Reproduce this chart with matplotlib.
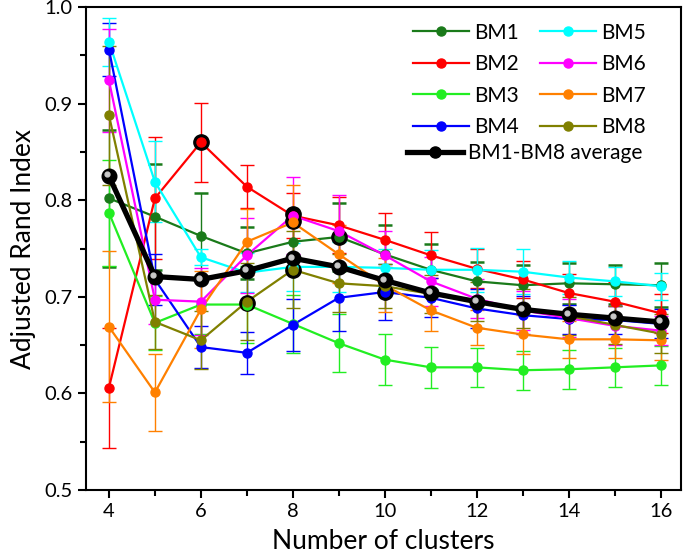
import matplotlib
matplotlib.use("Agg")
import matplotlib.pyplot as plt
import matplotlib.transforms as mtransforms
from matplotlib.lines import Line2D
import numpy as np

plt.rcParams['font.family'] = ['Lato', 'DejaVu Sans']

clusters = [4, 5, 6, 7, 8, 9, 10, 11, 12, 13, 14, 15, 16]

bm1 = [0.802, 0.783, 0.763, 0.745, 0.757, 0.762, 0.744, 0.728, 0.716, 0.712, 0.714, 0.713, 0.712]
bm2 = [0.606, 0.802, 0.860, 0.814, 0.784, 0.774, 0.759, 0.743, 0.729, 0.718, 0.704, 0.695, 0.683]
bm3 = [0.787, 0.673, 0.692, 0.692, 0.672, 0.652, 0.635, 0.627, 0.627, 0.624, 0.625, 0.627, 0.629]
bm4 = [0.956, 0.718, 0.648, 0.642, 0.671, 0.699, 0.705, 0.699, 0.688, 0.681, 0.677, 0.676, 0.672]
bm5 = [0.964, 0.819, 0.741, 0.725, 0.731, 0.731, 0.730, 0.728, 0.728, 0.726, 0.720, 0.716, 0.711]
bm6 = [0.924, 0.697, 0.695, 0.743, 0.784, 0.768, 0.743, 0.716, 0.698, 0.686, 0.678, 0.670, 0.665]
bm7 = [0.669, 0.601, 0.687, 0.757, 0.777, 0.744, 0.712, 0.686, 0.668, 0.661, 0.656, 0.656, 0.655]
bm8 = [0.888, 0.674, 0.655, 0.695, 0.728, 0.714, 0.711, 0.703, 0.695, 0.688, 0.680, 0.671, 0.662]
avg = [0.825, 0.721, 0.718, 0.727, 0.740, 0.731, 0.717, 0.704, 0.695, 0.687, 0.682, 0.678, 0.674]

err1 = [0.071, 0.055, 0.044, 0.027, 0.030, 0.035, 0.030, 0.027, 0.020, 0.021, 0.021, 0.020, 0.023]
err2 = [0.062, 0.063, 0.041, 0.022, 0.023, 0.029, 0.028, 0.024, 0.020, 0.019, 0.020, 0.020, 0.020]
err3 = [0.055, 0.028, 0.030, 0.040, 0.030, 0.030, 0.026, 0.021, 0.020, 0.020, 0.020, 0.020, 0.020]
err4 = [0.027, 0.026, 0.022, 0.022, 0.027, 0.034, 0.029, 0.020, 0.020, 0.020, 0.015, 0.015, 0.015]
err5 = [0.025, 0.042, 0.008, 0.020, 0.025, 0.026, 0.020, 0.020, 0.023, 0.023, 0.017, 0.015, 0.014]
err6 = [0.053, 0.025, 0.035, 0.039, 0.040, 0.037, 0.025, 0.025, 0.020, 0.020, 0.020, 0.020, 0.015]
err7 = [0.078, 0.040, 0.040, 0.034, 0.039, 0.030, 0.028, 0.021, 0.018, 0.020, 0.019, 0.019, 0.020]
err8 = [0.072, 0.028, 0.030, 0.040, 0.040, 0.030, 0.023, 0.020, 0.020, 0.020, 0.020, 0.020, 0.020]

# highlighted points (black rings)
ring_x = [6, 7, 8, 8, 8, 9, 10]
ring_y = [0.860, 0.694, 0.786, 0.778, 0.728, 0.762, 0.705]

labels = ['BM1', 'BM2', 'BM3', 'BM4', 'BM5', 'BM6', 'BM7', 'BM8']
colors = ['#1a7a1a', '#ff0000', '#22ee22', '#0000ff', '#00ffff', '#ff00ff', '#ff8000', '#808000']
series = [bm1, bm2, bm3, bm4, bm5, bm6, bm7, bm8]
errs = [err1, err2, err3, err4, err5, err6, err7, err8]

fig = plt.figure(figsize=(6.85, 5.56), dpi=100)
ax = fig.add_axes([0.1255, 0.1187, 0.869, 0.8686])

handles = []
for i, (lab, col, ys, es) in enumerate(zip(labels, colors, series, errs)):
    capw = 1.8 if i == 0 else 1.0
    ax.errorbar(clusters, ys, yerr=es, fmt='none', ecolor=col, elinewidth=1.0,
                capsize=5, capthick=capw, zorder=2)
for i, (lab, col, ys) in enumerate(zip(labels, colors, series)):
    h, = ax.plot(clusters, ys, '-', color=col, lw=1.6, zorder=3, label=lab)
    handles.append(h)

# black rings beneath colored markers
ax.plot(ring_x, ring_y, 'o', ls='none', color='black', ms=11, zorder=4)

for i, (lab, col, ys) in enumerate(zip(labels, colors, series)):
    ax.plot(clusters, ys, 'o', ls='none', color=col, ms=6.5, zorder=5)

# average series
ax.plot(clusters, avg, '-', color='black', lw=3.8, zorder=6)
ax.plot(clusters, avg, 'o', ls='none', color='black', ms=10.5, zorder=7)
hl = mtransforms.offset_copy(ax.transData, fig=fig, x=-1.2, y=1.2, units='points')
ax.plot(clusters, avg, 'o', ls='none', color='#c8c8c8', ms=3.5, zorder=8, transform=hl)

ax.set_xlim(3.5, 16.45)
ax.set_ylim(0.5, 1.0)
ax.set_xticks([4, 6, 8, 10, 12, 14, 16])
ax.set_xticks([5, 7, 9, 11, 13, 15], minor=True)
ax.set_yticks([0.5, 0.6, 0.7, 0.8, 0.9, 1.0])
ax.set_yticks([0.55, 0.65, 0.75, 0.85, 0.95], minor=True)
ax.set_yticklabels(['0.5', '0.6', '0.7', '0.8', '0.9', '1.0'])
ax.tick_params(axis='both', which='major', direction='out', length=6, width=1.5,
               labelsize=14.5, top=False, right=False)
ax.tick_params(axis='both', which='minor', direction='out', length=4, width=1.5,
               top=False, right=False)
for s in ax.spines.values():
    s.set_linewidth(1.5)

ax.set_xlabel('Number of clusters', fontsize=19, labelpad=6)
ax.set_ylabel('Adjusted Rand Index', fontsize=19, labelpad=6)

leg1 = ax.legend(handles=handles, ncol=2, loc='upper right', frameon=False,
                 fontsize=15, handlelength=2.7, handletextpad=0.25, columnspacing=1.0,
                 labelspacing=0.55, bbox_to_anchor=(0.955, 0.985), borderaxespad=0.0)
for lh in leg1.legend_handles:
    lh.set_marker('o')
    lh.set_markersize(6.5)
ax.add_artist(leg1)

avg_handle = Line2D([], [], color='black', lw=3.8, marker='o', ms=8, markerfacecolor='black')
leg2 = ax.legend(handles=[avg_handle], labels=['BM1-BM8 average'], loc='upper left',
                 frameon=False, fontsize=15, handlelength=2.7, handletextpad=0.25,
                 bbox_to_anchor=(0.525, 0.735), borderaxespad=0.0)

fig.savefig('out.png', dpi=100)
